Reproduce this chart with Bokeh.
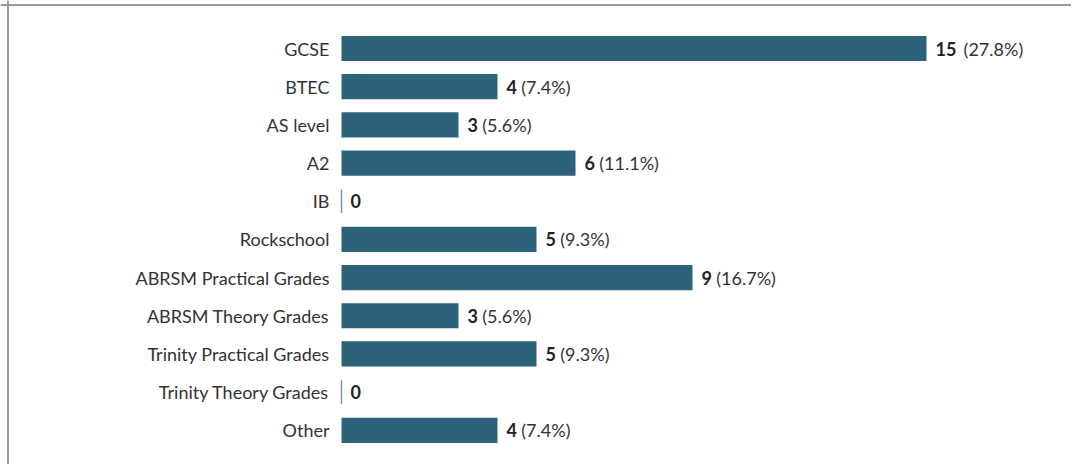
from bokeh.plotting import figure
from bokeh.models import Range1d, ColumnDataSource, Span
from bokeh.core.properties import value
from bokeh.embed import file_html
from bokeh.resources import INLINE

categories = ["GCSE", "BTEC", "AS level", "A2", "IB", "Rockschool",
              "ABRSM Practical Grades", "ABRSM Theory Grades",
              "Trinity Practical Grades", "Trinity Theory Grades", "Other"]
counts = [15, 4, 3, 6, 0, 5, 9, 3, 5, 0, 4]
percents = ["27.8%", "7.4%", "5.6%", "11.1%", "", "9.3%", "16.7%", "5.6%", "9.3%", "", "7.4%"]

W, H = 1071, 464
PX_PER_UNIT = 39.0      # horizontal scale
ZERO_X = 341.0          # canvas x of value 0
ROW_PITCH = 38.18       # px per row
FIRST_ROW_Y = 48.0      # canvas y of first row centre
BAR_COLOR = "#2e617a"
FONT = "Lato"
FS = "18px"

rows = list(range(len(categories)))
src = ColumnDataSource(dict(
    row=rows,
    cat=categories,
    count=counts,
    count_txt=[str(c) for c in counts],
    pct_txt=[("(" + p + ")") if p else "" for p in percents],
    pct_off=[10.5 + 13.3 * len(str(c)) for c in counts],
))
zero_src = ColumnDataSource(dict(
    row=[r for r, n in zip(rows, counts) if n == 0],
    x=[0 for n in counts if n == 0],
))

x_range = Range1d(-ZERO_X / PX_PER_UNIT, (W - ZERO_X) / PX_PER_UNIT)
# flipped y: first category on top
y_range = Range1d(start=(H - FIRST_ROW_Y) / ROW_PITCH, end=-FIRST_ROW_Y / ROW_PITCH)

p = figure(width=W, height=H, x_range=x_range, y_range=y_range,
           output_backend="svg", toolbar_location=None,
           x_axis_location=None, y_axis_location=None,
           min_border_left=0, min_border_right=0, min_border_top=0,
           min_border_bottom=0)
p.grid.visible = False
p.outline_line_color = None
p.background_fill_color = "white"
p.border_fill_color = "white"

p.hbar(y="row", left=0, right="count", height=0.66, source=src,
       fill_color=BAR_COLOR, line_color=None)
p.rect(x="x", y="row", width=1.5, width_units="screen", height=0.62,
       source=zero_src, fill_color="#7d95a4", line_color=None)

p.text(x=0, y="row", text="cat", source=src, x_offset=-12,
       text_align="right", text_baseline="middle",
       text_font=value(FONT), text_font_size=FS, text_color="#333333")
p.text(x="count", y="row", text="count_txt", source=src, x_offset=9,
       text_align="left", text_baseline="middle",
       text_font=value(FONT), text_font_size=FS, text_font_style="bold",
       text_color="#222222")
p.text(x="count", y="row", text="pct_txt", source=src, x_offset="pct_off",
       text_align="left", text_baseline="middle",
       text_font=value(FONT), text_font_size=FS, text_color="#333333")

# border lines (left and top)
p.add_layout(Span(location=(7.5 - ZERO_X) / PX_PER_UNIT, dimension="height",
                  line_color="#999999", line_width=2))
p.add_layout(Span(location=(4.5 - FIRST_ROW_Y) / ROW_PITCH, dimension="width",
                  line_color="#999999", line_width=2))

open("out.html", "w").write(file_html(p, INLINE))
